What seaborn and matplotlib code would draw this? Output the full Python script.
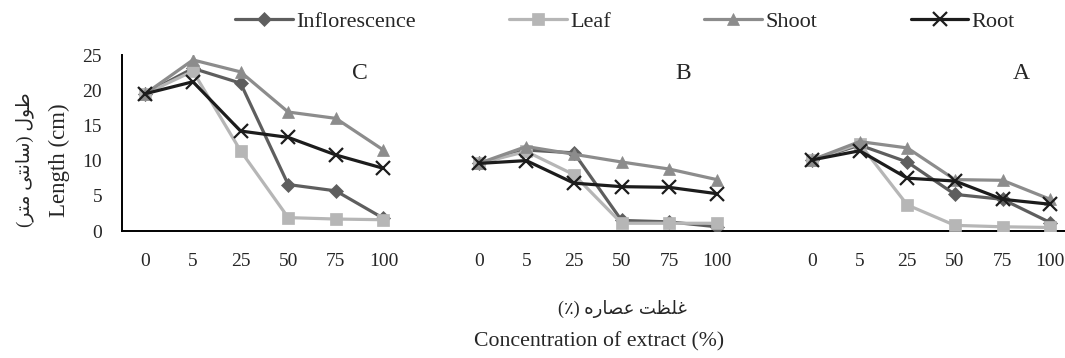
import matplotlib
matplotlib.use("Agg")
import matplotlib.pyplot as plt
import seaborn as sns
import pandas as pd
import numpy as np

# ---- data ----
categories = ["0", "5", "25", "50", "75", "100"]
panels = ["C", "B", "A"]
series = ["Inflorescence", "Leaf", "Shoot", "Root"]

inflorescence_C = [19.5, 23.1, 21.0, 6.6, 5.7, 1.8]
inflorescence_B = [9.6, 11.5, 11.1, 1.5, 1.3, 0.6]
inflorescence_A = [10.1, 12.2, 9.8, 5.2, 4.5, 1.2]

leaf_C = [19.5, 22.7, 11.4, 1.9, 1.7, 1.6]
leaf_B = [9.6, 11.3, 8.0, 1.1, 1.1, 1.1]
leaf_A = [10.1, 12.4, 3.7, 0.8, 0.6, 0.5]

shoot_C = [19.5, 24.3, 22.6, 16.9, 16.0, 11.5]
shoot_B = [9.6, 12.0, 10.9, 9.8, 8.8, 7.3]
shoot_A = [10.1, 12.7, 11.8, 7.3, 7.2, 4.5]

root_C = [19.5, 21.2, 14.2, 13.3, 10.8, 8.9]
root_B = [9.6, 10.0, 6.8, 6.3, 6.2, 5.3]
root_A = [10.1, 11.4, 7.5, 7.1, 4.5, 3.8]

values = {
    "Inflorescence": [inflorescence_C, inflorescence_B, inflorescence_A],
    "Leaf": [leaf_C, leaf_B, leaf_A],
    "Shoot": [shoot_C, shoot_B, shoot_A],
    "Root": [root_C, root_B, root_A],
}

# ---- styles ----
colors = {"Inflorescence": "#5e5e5e", "Leaf": "#b6b6b6", "Shoot": "#8c8c8c", "Root": "#1c1c1c"}
markers = {"Inflorescence": "D", "Leaf": "s", "Shoot": "^", "Root": "x"}
msizes = {"Inflorescence": 7.5, "Leaf": 8, "Shoot": 9, "Root": 9.5}

rows = []
gap = 7
for s in series:
    for pi, p in enumerate(panels):
        for ci, c in enumerate(categories):
            rows.append({"series": s, "panel": p, "pos": pi * gap + ci,
                         "cat": c, "value": values[s][pi][ci]})
df = pd.DataFrame(rows)

sns.set_theme(style="white")
plt.rcParams["font.family"] = ["Liberation Serif", "DejaVu Sans"]

W, H = 1065, 358
fig = plt.figure(figsize=(W / 100, H / 100), dpi=100)
ax = fig.add_axes([121.5 / W, (H - 231) / H, (1074 - 121.5) / W, (231 - 55) / H])

handles = {}
for s in series:
    for pi, p in enumerate(panels):
        sub = df[(df.series == s) & (df.panel == p)]
        sns.lineplot(data=sub, x="pos", y="value", ax=ax, color=colors[s],
                     linewidth=2.3, marker=markers[s], markersize=msizes[s],
                     markeredgecolor=colors[s], markeredgewidth=1.6 if s == "Root" else 0.5,
                     estimator=None, sort=False, legend=False, zorder=3)
    handles[s] = ax.lines[-1]

ax.set_xlim(-0.5, 19.5)
ax.set_ylim(0, 25)
ax.set_yticks([0, 5, 10, 15, 20, 25])
ax.set_yticklabels(["0", "5", "10", "15", "20", "25"], fontsize=14)
pos_ticks = [pi * gap + ci for pi in range(3) for ci in range(len(categories))]
ax.set_xticks(pos_ticks)
ax.set_xticklabels(categories * 3, fontsize=14)
ax.tick_params(axis="x", length=0, pad=15.5)
ax.tick_params(axis="y", length=0, pad=14)
ax.set_xlabel("")
ax.set_ylabel("")
for side in ["top", "right"]:
    ax.spines[side].set_visible(False)
for side in ["left", "bottom"]:
    ax.spines[side].set_color("black")
    ax.spines[side].set_linewidth(1.4)
ax.grid(False)
ax.patch.set_alpha(0)

# panel letters
for lab, xp in zip(panels, [4.5, 11.3, 18.4]):
    ax.text(xp, 22.4, lab, fontsize=17, ha="center", va="center")

# y label (Persian line + English line)
fa_y = "(\uFEAE\uFE98\uFEE3 \uFEF0\uFE98\uFEE7\uFE8E\uFEB3) \uFEDD\uFEEE\uFEC3"
fig.text(25 / W, 1 - 160 / H, fa_y, rotation=90, ha="center", va="center", fontsize=13.5)
fig.text(59 / W, 1 - 160 / H, "Length (cm)", rotation=90, ha="center", va="center", fontsize=16.5)

# x label
fa_x = "(\u066A) \uFEE9\uFEAD\uFE8E\uFEBC\uFECB \uFE96\uFEC8\uFEE0\uFECF"
fig.text(622 / W, 1 - 309 / H, fa_x, ha="center", va="center", fontsize=13)
fig.text(599 / W, 1 - 342 / H, "Concentration of extract (%)", ha="center", va="center", fontsize=15.7)

# legend
fig.legend([handles[s] for s in series], series, loc="center",
           bbox_to_anchor=(625 / W, 1 - 22 / H), ncol=4, frameon=False,
           fontsize=16, handlelength=2.6, handletextpad=0.15, columnspacing=4.2)

fig.savefig("out.png", dpi=100)
